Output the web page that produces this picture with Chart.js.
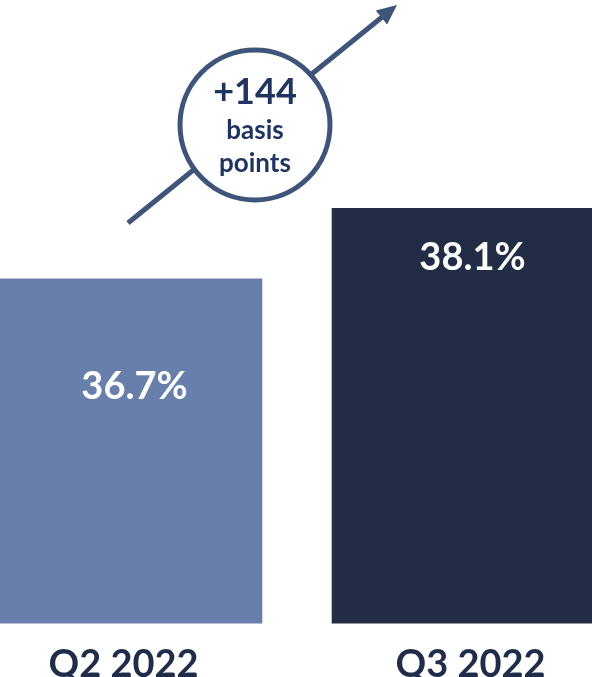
<!DOCTYPE html>
<html>
<head>
<meta charset="utf-8">
<script src="https://cdn.jsdelivr.net/npm/chart.js@4.4.0/dist/chart.umd.min.js"></script>
<style>
  html, body { margin: 0; padding: 0; background: #fff; }
  #wrap { position: relative; width: 592px; height: 677px; overflow: hidden; }
  #chart { position: absolute; left: -50px; top: 0; }
</style>
</head>
<body>
<div id="wrap"><canvas id="chart" width="694" height="707"></canvas></div>
<script>
// values
var quarters = ["Q2 2022", "Q3 2022"];
var margins = [36.7, 38.1];
var barColors = ["#687fab", "#222d45"];
var changeLines = ["+144", "basis", "points"];

(function () {
    var SHIFT = 50; // canvas is moved left so the bars bleed off the edges
    var ink = "#1f2d4a";
    var accent = "#3e5479";
    var fontName = "Lato, 'Open Sans', sans-serif";

    // where the value label sits relative to the bar top / centre
    var labelDrop = [108, 50];
    var labelNudge = [11, 2];

    var valueLabels = {
        id: "valueLabels",
        afterDatasetsDraw: function (chart) {
            var ctx = chart.ctx;
            var meta = chart.getDatasetMeta(0);
            ctx.save();
            ctx.fillStyle = "#ffffff";
            ctx.font = "bold 38px " + fontName;
            ctx.textAlign = "center";
            ctx.textBaseline = "middle";
            meta.data.forEach(function (bar, i) {
                ctx.fillText(margins[i].toFixed(1) + "%", bar.x + labelNudge[i], bar.y + labelDrop[i]);
            });
            ctx.restore();
        }
    };

    var changeBadge = {
        id: "changeBadge",
        afterDraw: function (chart) {
            var ctx = chart.ctx;
            var x0 = 128 + SHIFT, y0 = 223, x1 = 397 + SHIFT, y1 = 5;
            var ang = Math.atan2(y1 - y0, x1 - x0);
            ctx.save();
            // arrow shaft
            ctx.strokeStyle = accent;
            ctx.lineWidth = 5;
            ctx.beginPath();
            ctx.moveTo(x0, y0);
            ctx.lineTo(x1 - 14 * Math.cos(ang), y1 - 14 * Math.sin(ang));
            ctx.stroke();
            // arrow head
            ctx.fillStyle = accent;
            ctx.beginPath();
            ctx.moveTo(x1, y1);
            ctx.lineTo(x1 - 20 * Math.cos(ang) + 9 * Math.sin(ang), y1 - 20 * Math.sin(ang) - 9 * Math.cos(ang));
            ctx.lineTo(x1 - 20 * Math.cos(ang) - 9 * Math.sin(ang), y1 - 20 * Math.sin(ang) + 9 * Math.cos(ang));
            ctx.closePath();
            ctx.fill();
            // circle
            var cx = 255 + SHIFT, cy = 125;
            ctx.beginPath();
            ctx.arc(cx, cy, 75, 0, Math.PI * 2);
            ctx.fillStyle = "#ffffff";
            ctx.fill();
            ctx.lineWidth = 5;
            ctx.strokeStyle = accent;
            ctx.stroke();
            // text
            ctx.fillStyle = "#1f3560";
            ctx.textAlign = "center";
            ctx.textBaseline = "middle";
            ctx.font = "bold 36px " + fontName;
            ctx.fillText(changeLines[0], cx, 92);
            ctx.font = "bold 26px " + fontName;
            ctx.fillText(changeLines[1], cx, 131);
            ctx.fillText(changeLines[2], cx, 164);
            ctx.restore();
        }
    };

    new Chart(document.getElementById("chart"), {
        type: "bar",
        data: {
            labels: quarters,
            datasets: [{
                data: margins,
                backgroundColor: barColors,
                borderWidth: 0,
                barPercentage: 0.8,
                categoryPercentage: 1.0
            }]
        },
        options: {
            responsive: false,
            animation: false,
            layout: { padding: 0 },
            plugins: {
                legend: { display: false },
                tooltip: { enabled: false }
            },
            scales: {
                x: {
                    grid: { display: false, drawTicks: false },
                    border: { display: false },
                    ticks: {
                        color: ink,
                        padding: 19,
                        font: { family: fontName, size: 38, weight: "bold" }
                    }
                },
                y: {
                    display: false,
                    min: 29.85,
                    max: 42.23
                }
            }
        },
        plugins: [valueLabels, changeBadge]
    });
})();
</script>
</body>
</html>
